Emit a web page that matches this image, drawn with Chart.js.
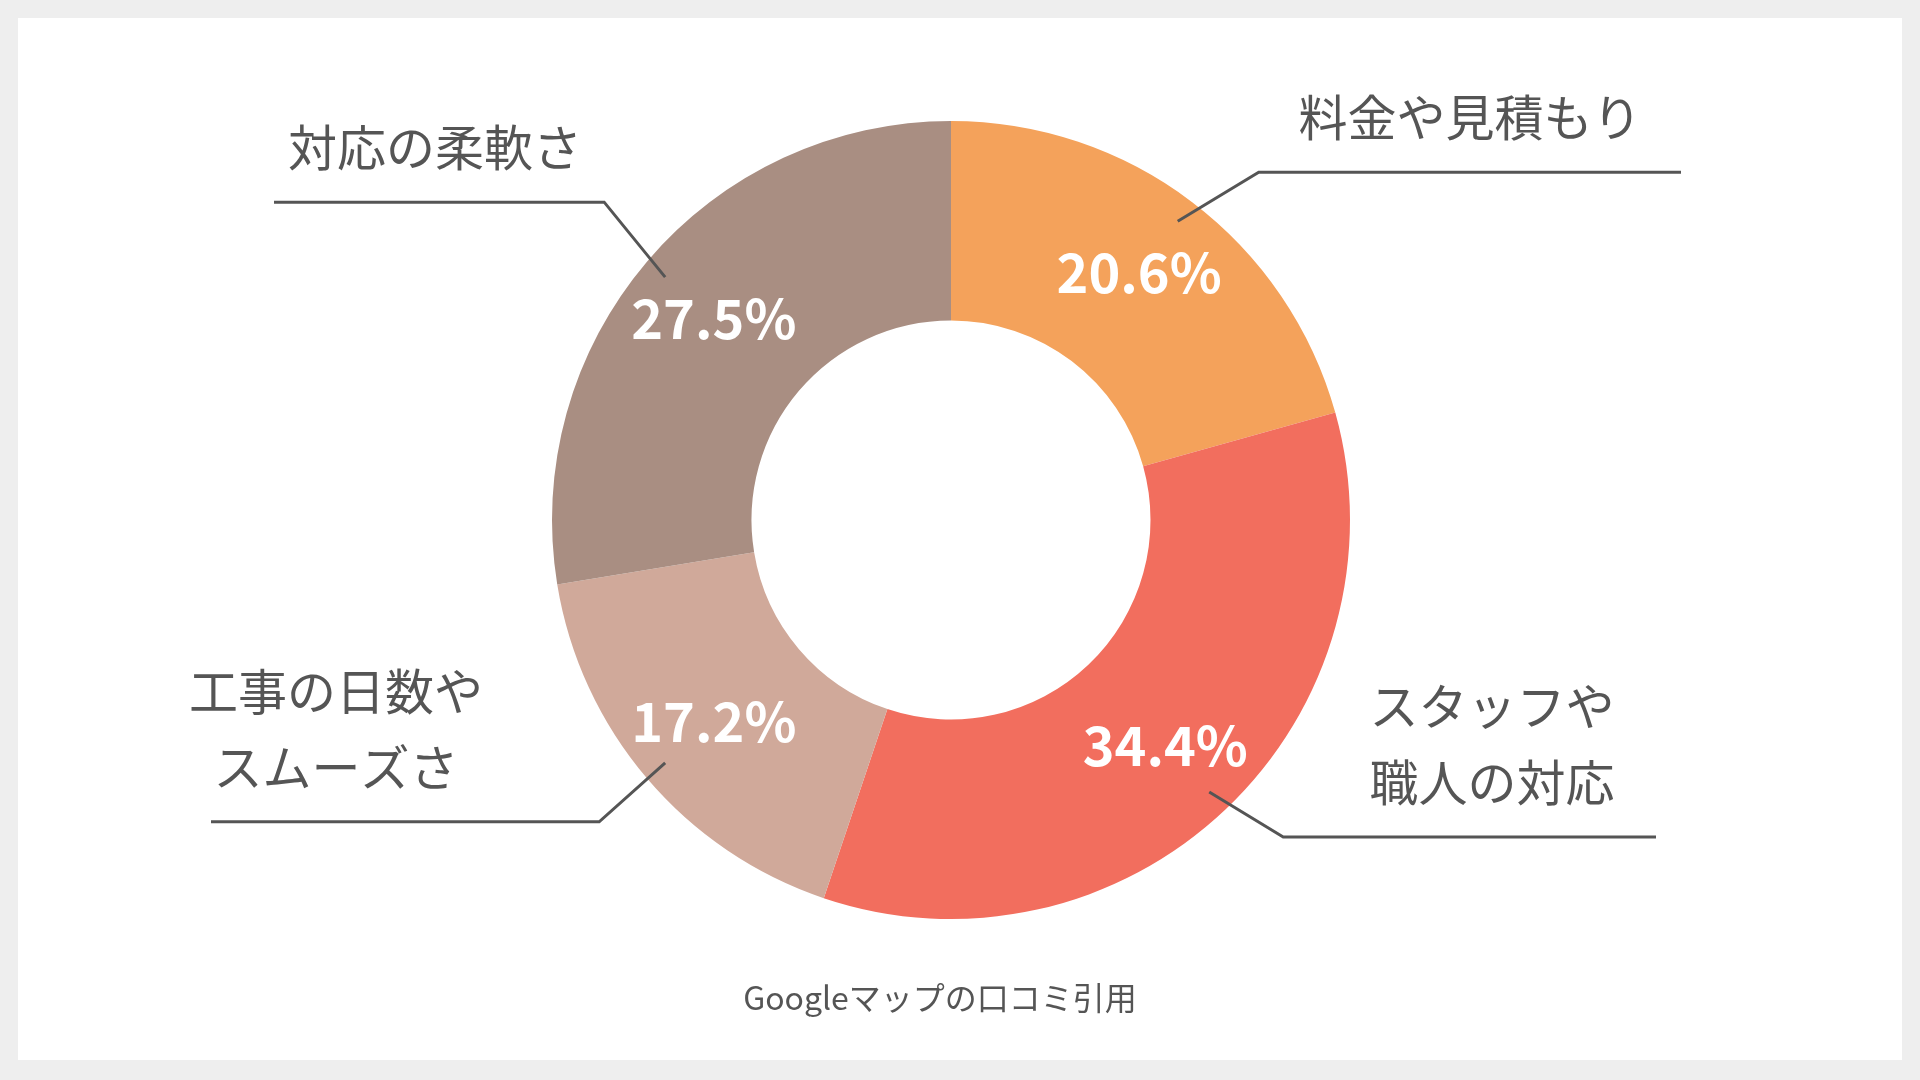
<!DOCTYPE html>
<html>
<head>
<meta charset="utf-8">
<script src="https://cdn.jsdelivr.net/npm/chart.js@4"></script>
<style>
  html, body { margin: 0; padding: 0; background: #eeeeee; }
  #card { position: absolute; left: 18px; top: 18px; width: 1884px; height: 1042px; background: #fff; }
  #wrap { position: absolute; left: 0; top: 0; width: 1920px; height: 1080px; }
</style>
</head>
<body>
<div id="card"></div>
<div id="wrap"><canvas id="c" width="1920" height="1080"></canvas></div>
<script>
// data
const categories = ['料金や見積もり', 'スタッフや\n職人の対応', '工事の日数や\nスムーズさ', '対応の柔軟さ'];
const shares = [20.6, 34.4, 17.2, 27.5];
const colors = ['#F4A25B', '#F26E5E', '#D0A99A', '#A98E82'];
const sourceNote = 'Googleマップの口コミ引用';

// leader layout per slice: elbow offset, line end x, text centre x
const leaders = [
  { elbow: [81, -49], endX: 1681, textX: 1470, side: 1 },
  { elbow: [74, 45], endX: 1656, textX: 1492, side: 1 },
  { elbow: [-66, 59], endX: 211, textX: 336, side: -1 },
  { elbow: [-61, -75], endX: 274, textX: 435, side: -1 }
];

const labelPlugin = {
  id: 'labels',
  afterDatasetsDraw(chart) {
    const ctx = chart.ctx;
    const arcs = chart.getDatasetMeta(0).data;
    arcs.forEach((arc, i) => {
      const mid = (arc.startAngle + arc.endAngle) / 2;
      const R = arc.outerRadius;
      // percentage
      const pr = R * 0.78;
      ctx.save();
      ctx.fillStyle = '#fff';
      ctx.font = 'bold 54px "Noto Sans CJK JP", "Noto Sans", sans-serif';
      ctx.textAlign = 'center';
      ctx.textBaseline = 'middle';
      ctx.fillText(shares[i].toFixed(1) + '%', arc.x + Math.cos(mid) * pr, arc.y + Math.sin(mid) * pr);
      // leader line
      const sx = arc.x + Math.cos(mid) * R * 0.94;
      const sy = arc.y + Math.sin(mid) * R * 0.94;
      const L = leaders[i];
      const ex = sx + L.elbow[0], ey = sy + L.elbow[1];
      ctx.strokeStyle = '#555';
      ctx.lineWidth = 3;
      ctx.beginPath();
      ctx.moveTo(sx, sy);
      ctx.lineTo(ex, ey);
      ctx.lineTo(L.endX, ey);
      ctx.stroke();
      // category text above the line
      ctx.fillStyle = '#555';
      ctx.font = '49px "Noto Sans CJK JP", sans-serif';
      ctx.textBaseline = 'alphabetic';
      const lines = categories[i].split('\n');
      lines.forEach((t, k) => {
        const y = ey - 36 - (lines.length - 1 - k) * 76;
        ctx.fillText(t, L.textX, y);
      });
      ctx.restore();
    });
    ctx.save();
    ctx.fillStyle = '#555';
    ctx.font = '32px "Noto Sans CJK JP", sans-serif';
    ctx.textAlign = 'center';
    ctx.textBaseline = 'middle';
    ctx.fillText(sourceNote, 940, 998);
    ctx.restore();
  }
};

new Chart(document.getElementById('c'), {
  type: 'doughnut',
  data: {
    labels: categories,
    datasets: [{ data: shares, backgroundColor: colors, borderWidth: 0 }]
  },
  options: {
    responsive: false,
    animation: false,
    cutout: '50%',
    layout: { padding: { left: 552, right: 570, top: 121, bottom: 161 } },
    plugins: { legend: { display: false }, tooltip: { enabled: false } }
  },
  plugins: [labelPlugin]
});
</script>
</body>
</html>
